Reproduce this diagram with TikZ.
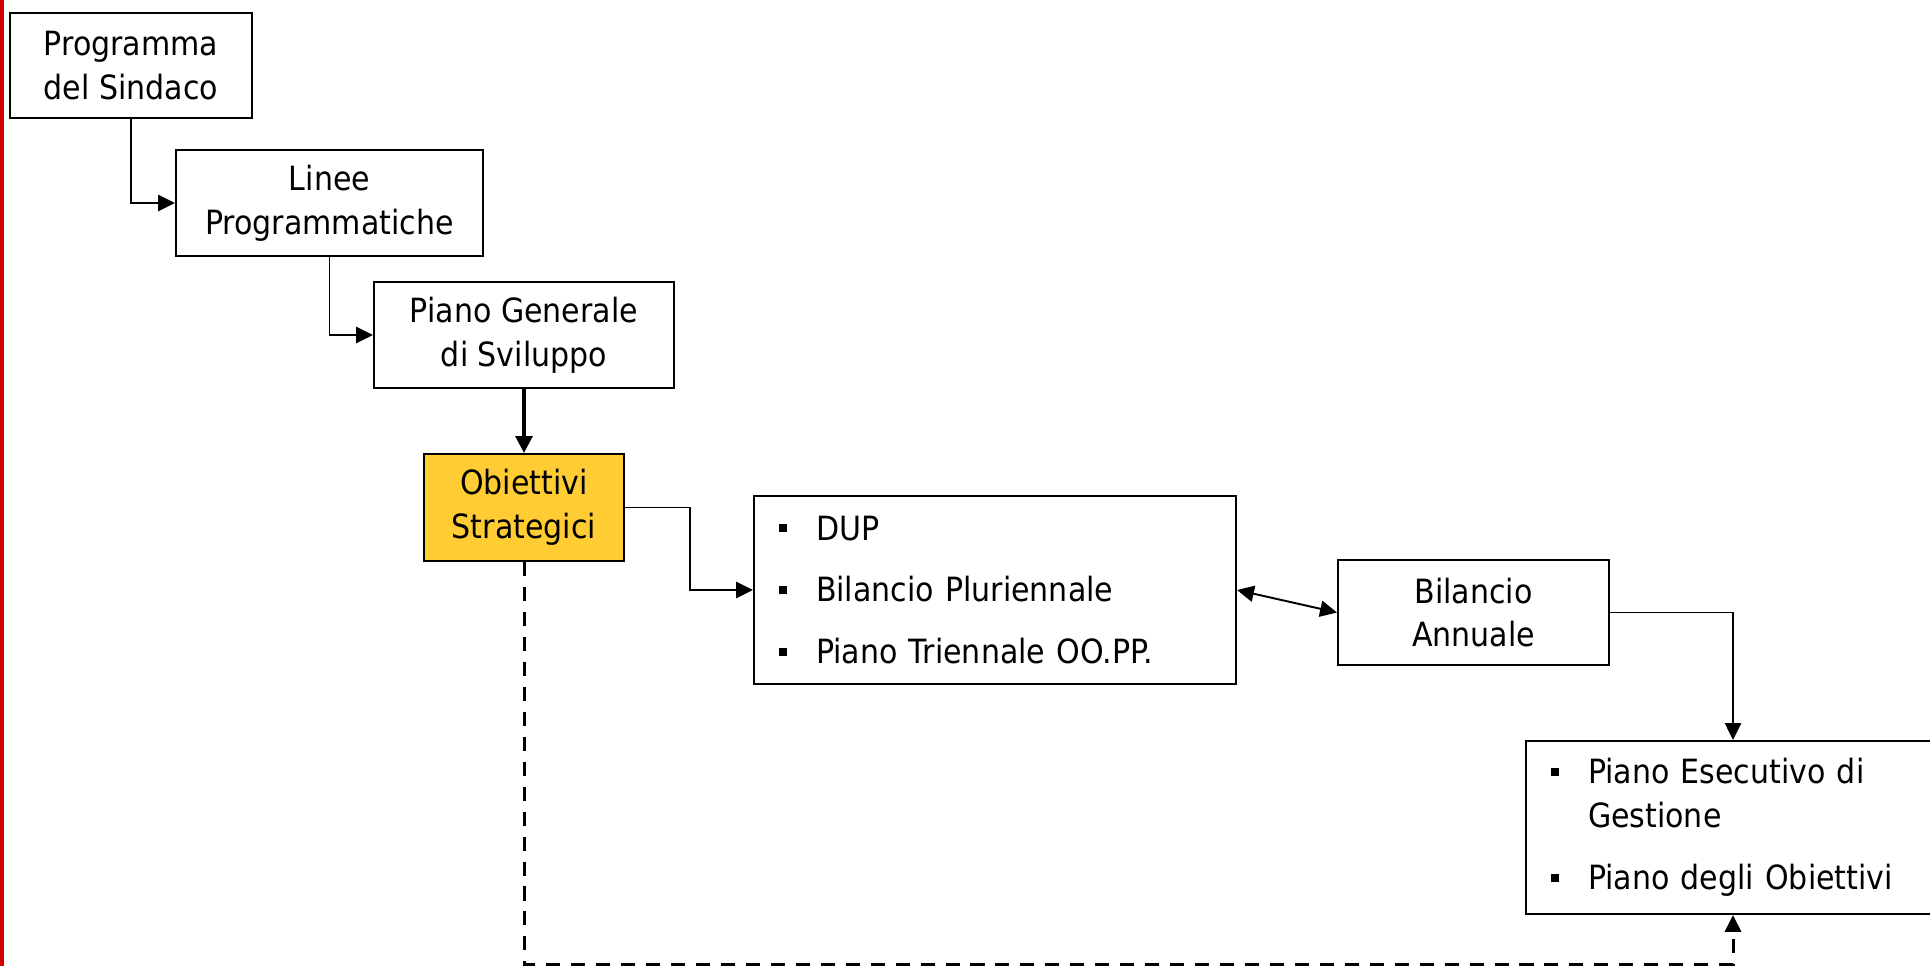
\documentclass[tikz,border=0pt]{standalone}
\usepackage{fontspec}
\setmainfont{DejaVu Sans}[FakeStretch=0.9]
\usetikzlibrary{arrows.meta,positioning,calc}
\definecolor{goldfill}{RGB}{255,204,51}
\definecolor{barred}{RGB}{208,0,0}
\tikzset{
  boxnd/.style={draw, line width=0.6pt, inner sep=0pt, align=center,
    font=\fontsize{9.5}{12.4}\selectfont},
  listnd/.style={boxnd, align=left, inner xsep=2.5mm},
  linkln/.style={-{Triangle[length=4.8pt,width=4.6pt]}, line width=0.55pt},
  thickln/.style={-{Triangle[length=4.8pt,width=4.8pt]}, line width=0.9pt},
  dashln/.style={-{Triangle[length=4.8pt,width=4.6pt]}, line width=0.85pt,
    dash pattern=on 4pt off 3.1pt},
}
\newcommand{\sqbul}{\makebox[3.7mm][l]{\rule[0.8mm]{0.8mm}{0.8mm}}}

\begin{document}
\begin{tikzpicture}[x=0.1mm, y=-0.1mm]
    \useasboundingbox (0,0) rectangle (1930,966);
    \fill[barred] (0,0) rectangle (3.5,966);
    % planning chain
    \node[boxnd, minimum width=24.2mm, minimum height=10.5mm] (prog) at (131,65.5)
      {Programma\\del Sindaco};
    \node[boxnd, minimum width=30.7mm, minimum height=10.6mm] (linee) at (329.5,203)
      {Linee\\Programmatiche};
    \node[boxnd, minimum width=30mm, minimum height=10.6mm] (piano) at (524,335)
      {Piano Generale\\di Sviluppo};
    \node[boxnd, fill=goldfill, minimum width=20mm, minimum height=10.7mm] (obiet) at (524,507.5)
      {Obiettivi\\Strategici};
    \node[listnd, text width=43.2mm, minimum height=18.8mm] (dup) at (995,590)
      {\sqbul DUP\\[1.8mm]\sqbul Bilancio Pluriennale\\[1.8mm]\sqbul Piano Triennale OO.PP.};
    \node[boxnd, minimum width=27.1mm, minimum height=10.5mm] (bilan) at (1473.5,612.5)
      {Bilancio\\Annuale};
    \node[listnd, text width=36.4mm, minimum height=17.3mm] (peg) at (1733,827.5)
      {\sqbul Piano Esecutivo di\\\hspace*{3.7mm}Gestione\\[1.9mm]\sqbul Piano degli Obiettivi};
    \coordinate (base) at (524,964);
    % connectors
    \draw[linkln] (prog.south) |- (linee.west);
    \draw[linkln] (linee.south) |- (piano.west);
    \draw[thickln] (piano.south) -- (obiet.north);
    \draw[linkln] (obiet.east) -- ++(65,0) |- (dup.west);
    \draw[linkln, {Triangle[length=4.8pt,width=4.6pt]}-{Triangle[length=4.8pt,width=4.6pt]}]
      (dup.east) -- (bilan.west);
    \draw[linkln] (bilan.east) -| (peg.north);
    \draw[dashln] (obiet.south) -- (base) -| (peg.south);
\end{tikzpicture}
\end{document}
